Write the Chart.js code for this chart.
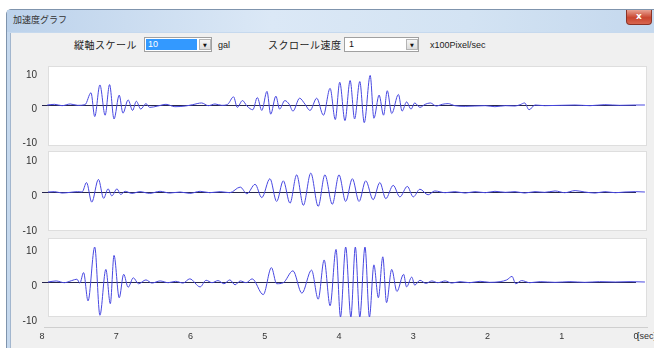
<!DOCTYPE html>
<html>
<head>
<meta charset="utf-8">
<script src="https://cdn.jsdelivr.net/npm/chart.js@4.4.1/dist/chart.umd.min.js"></script>
<style>
body{margin:0;width:654px;height:348px;overflow:hidden;background:#fff;position:relative;font-family:"Liberation Sans",Arial,sans-serif}
.abs{position:absolute}
#frame{left:6px;top:9px;width:660px;height:350px;background:#c6d9ee;border:1px solid #7f94ad;border-radius:5px 0 0 0}
#title{left:7px;top:10px;width:660px;height:22px;background:linear-gradient(90deg,#bcd2eb 0%,#dbe8f6 40%,#d3e3f3 70%,#c3d7ed 100%)}
#titleText{left:13px;top:13px;font:9px "Noto Sans CJK JP";color:#333}
#close{left:626px;top:10px;width:26px;height:15px;box-sizing:border-box;background:linear-gradient(#e8a293,#c9452f 55%,#d8664f);border:1px solid #8a3326;border-top:none;border-radius:0 0 4px 4px;color:#fff;font:bold 9px "DejaVu Sans";text-align:center;line-height:13px}
#client{left:10px;top:33px;width:660px;height:320px;background:#f0f0f0;border-left:1px solid #a2b6ce}
.lbl{font:10px "Noto Sans CJK JP";letter-spacing:0.5px;color:#222;top:37px}
.small{font:9px "Liberation Sans";color:#222;top:40px}
.combo{top:37px;height:15px;box-sizing:border-box;border:1px solid #a0a0a0;background:#fff}
.arrow{top:1px;width:12px;height:11px;box-sizing:border-box;border:1px solid #b4b4b4;background:linear-gradient(#f6f6f6,#dcdcdc);font:5px "DejaVu Sans";text-align:center;line-height:10px;color:#111}
.panel{left:48px;width:599px;background:#fff;border:1px solid #dedede;box-sizing:border-box}
canvas{position:absolute;left:0}
</style>
</head>
<body>
<div id="frame" class="abs"></div>
<div id="title" class="abs"></div>
<div id="titleText" class="abs">加速度グラフ</div>
<div id="close" class="abs">x</div>
<div id="client" class="abs"></div>

<div class="abs lbl" style="left:74px">縦軸スケール</div>
<div class="abs combo" style="left:144px;width:68px">
  <div class="abs" style="left:1px;top:1px;width:51px;height:11px;background:#3399ff;color:#fff;font:9px 'Liberation Sans';line-height:11px;padding-left:2px;box-sizing:border-box">10</div>
  <div class="abs arrow" style="left:54px">▼</div>
</div>
<div class="abs small" style="left:218px">gal</div>
<div class="abs lbl" style="left:268px">スクロール速度</div>
<div class="abs combo" style="left:344px;width:75px">
  <div class="abs" style="left:4px;top:1px;font:9px 'Liberation Sans';line-height:11px;color:#111">1</div>
  <div class="abs arrow" style="left:61px">▼</div>
</div>
<div class="abs small" style="left:430px">x100Pixel/sec</div>

<div class="abs panel" style="top:66px;height:80px"></div>
<div class="abs panel" style="top:151px;height:80px"></div>
<div class="abs panel" style="top:238px;height:79px"></div>
<div class="abs" style="left:44px;top:327px;width:604px;height:1px;background:#cfcfcf"></div>
<div class="abs" style="left:637px;top:331px;font:9px 'Liberation Sans';color:#333;white-space:nowrap">[sec]</div>

<canvas id="c1" width="654" height="90" style="top:60px"></canvas>
<canvas id="c2" width="654" height="92" style="top:146px"></canvas>
<canvas id="c3" width="654" height="112" style="top:236px"></canvas>

<script>
// time [sec] / acceleration [gal]
const accel1 = [[7.93,0],[7.83,0.2],[7.73,-0.2],[7.62,0.3],[7.52,-0.1],[7.42,0.1],[7.34,3.6],[7.29,-3.4],[7.22,5.9],[7.15,-3.0],[7.09,6.0],[7.03,-4.1],[6.96,2.9],[6.91,-2.4],[6.84,1.5],[6.78,-1.6],[6.73,1.1],[6.67,-1.2],[6.60,0.4],[6.55,-0.7],[6.44,-0.3],[6.33,0.2],[6.21,-0.5],[6.07,-0.3],[5.97,0.1],[5.85,0.6],[5.76,-0.2],[5.67,0.3],[5.58,-0.1],[5.50,0.2],[5.42,2.4],[5.37,-0.7],[5.30,1.3],[5.24,-0.3],[5.16,-1.4],[5.10,2.2],[5.04,-1.6],[4.97,4.0],[4.92,-2.7],[4.85,2.6],[4.80,-1.2],[4.73,1.3],[4.67,0.2],[4.62,-1.8],[4.53,2.0],[4.46,0.3],[4.39,-1.6],[4.30,2.0],[4.21,-3.0],[4.12,4.9],[4.05,-4.3],[3.99,6.7],[3.92,-4.6],[3.85,7.2],[3.79,-4.1],[3.72,6.9],[3.66,-5.2],[3.58,8.7],[3.53,-3.9],[3.46,2.9],[3.40,-3.0],[3.35,4.2],[3.29,-2.5],[3.20,3.1],[3.15,-1.8],[3.09,0.9],[3.03,-1.2],[2.98,0.6],[2.91,-0.7],[2.84,0.2],[2.77,0.6],[2.69,-0.3],[2.61,0.2],[2.53,0.4],[2.44,-0.2],[2.30,-0.4],[2.17,-0.3],[2.03,-0.2],[1.90,-0.5],[1.76,-0.2],[1.63,-0.3],[1.56,0.1],[1.50,0.6],[1.44,-1.4],[1.36,0.0],[1.23,-0.2],[1.02,-0.1],[0.82,0.0],[0.62,-0.2],[0.42,0.1],[0.22,-0.1],[0.01,0.0],[-0.12,0.0]];
const accel2 = [[7.92,0],[7.83,0.1],[7.73,-0.3],[7.62,-0.1],[7.52,0.1],[7.46,0],[7.40,2.7],[7.33,-2.9],[7.24,3.6],[7.17,-1.8],[7.11,0.9],[7.06,-1.1],[6.99,0.9],[6.94,-0.7],[6.88,0.2],[6.79,-0.4],[6.68,0.1],[6.55,-0.4],[6.41,0.2],[6.28,-0.3],[6.14,0],[6.01,-0.4],[5.87,0.2],[5.74,-0.2],[5.60,0.1],[5.47,-0.2],[5.33,1.4],[5.24,-0.5],[5.13,2.2],[5.04,-1.6],[4.93,3.8],[4.84,-2.7],[4.75,3.2],[4.66,-3.2],[4.57,4.9],[4.48,-3.8],[4.38,5.4],[4.28,-4.1],[4.19,4.9],[4.09,-3.5],[4.00,4.9],[3.91,-2.7],[3.82,3.8],[3.73,-2.7],[3.64,3.2],[3.54,-2.2],[3.45,2.7],[3.37,-1.9],[3.27,1.9],[3.18,-1.4],[3.08,1.6],[3.00,-1.4],[2.91,0.8],[2.80,-0.8],[2.71,0.3],[2.57,-0.2],[2.44,0.1],[2.30,-0.3],[2.17,0.1],[2.03,-0.2],[1.90,0.2],[1.76,-0.1],[1.63,0.1],[1.50,-0.3],[1.36,0.1],[1.23,-0.1],[1.09,0.3],[0.96,-0.2],[0.82,0.4],[0.69,0],[0.55,-0.3],[0.42,0.1],[0.28,-0.2],[0.15,0],[0.01,0.1],[-0.12,0]];
const accel3 = [[7.92,0],[7.81,0.3],[7.70,-0.2],[7.60,0.4],[7.53,0.8],[7.49,-0.3],[7.44,2.7],[7.38,-5.4],[7.29,10],[7.22,-9.5],[7.14,3.6],[7.08,-6.2],[7.03,7.6],[6.96,-4.5],[6.90,2.2],[6.84,-1.5],[6.77,1.2],[6.70,-0.5],[6.60,0.6],[6.52,-0.3],[6.41,0.3],[6.30,-0.2],[6.20,0.2],[6.10,-0.3],[6.01,0.9],[5.87,-1.4],[5.79,0.5],[5.71,-0.2],[5.63,0.4],[5.55,-0.5],[5.47,0.6],[5.40,-0.8],[5.33,0.3],[5.25,-0.2],[5.17,0.9],[5.02,-3.6],[4.91,4.1],[4.84,-0.5],[4.75,-0.2],[4.62,3.2],[4.50,-3.2],[4.37,3.4],[4.28,-4.9],[4.20,6.3],[4.12,-6.8],[4.04,9.3],[3.98,-10],[3.91,10],[3.84,-10],[3.78,10],[3.72,-10],[3.65,10],[3.59,-10],[3.53,4.9],[3.47,-4.5],[3.41,7.2],[3.36,-5.9],[3.29,3.6],[3.22,-2.7],[3.13,2.2],[3.09,-1.4],[3.02,1.4],[2.98,-0.9],[2.91,0.5],[2.83,-0.4],[2.75,0.3],[2.67,-0.2],[2.57,0.3],[2.48,-0.3],[2.37,0.1],[2.24,-0.2],[2.10,0.2],[1.97,-0.1],[1.83,0.1],[1.74,0.6],[1.67,1.6],[1.62,-0.5],[1.54,0.4],[1.43,-0.2],[1.29,0.1],[1.09,-0.1],[0.89,0.1],[0.69,-0.1],[0.49,0.1],[0.28,0],[0.08,0.1],[-0.12,0]];

const timeRange = [0, 8];      // seconds, newest at the right
const scaleGal = 10;           // 縦軸スケール
const yTickStep = 10;

Chart.defaults.font.family = '"Liberation Sans", Arial, sans-serif';

function panelChart(id, series, pad, showX){
  return new Chart(document.getElementById(id), {
    type: 'line',
    data: {
      datasets: [{
        data: series.map(p => ({x: p[0], y: p[1]})),
        borderColor: 'rgb(72,72,225)',
        borderWidth: 1,
        pointRadius: 0,
        cubicInterpolationMode: 'monotone',
        clip: {left: 8, right: 12, top: 0, bottom: 0}
      }]
    },
    options: {
      responsive: false,
      animation: false,
      layout: {padding: {left: 0, right: 18, top: pad[0], bottom: pad[1]}},
      plugins: {legend: {display: false}, tooltip: {enabled: false}},
      scales: {
        x: {
          type: 'linear', min: timeRange[0], max: timeRange[1], reverse: true,
          display: showX,
          grid: {display: false, drawTicks: false},
          border: {display: false},
          ticks: {stepSize: 1, padding: 14, maxRotation: 0, autoSkip: false, color: '#333', font: {size: 9}},
          afterFit: s => { s.height = showX ? 31 : 0; }
        },
        y: {
          min: -scaleGal, max: scaleGal,
          grid: {drawTicks: false, color: c => c.tick.value === 0 ? '#26264c' : 'rgba(0,0,0,0)'},
          border: {display: false},
          ticks: {stepSize: yTickStep, padding: 5, labelOffset: 4, color: '#333', font: {size: 10}},
          afterFit: s => { s.width = 42; }
        }
      }
    }
  });
}

panelChart('c1', accel1, [7, 9], false);
panelChart('c2', accel2, [7, 11], false);
panelChart('c3', accel3, [7, 0], true);
</script>
</body>
</html>
